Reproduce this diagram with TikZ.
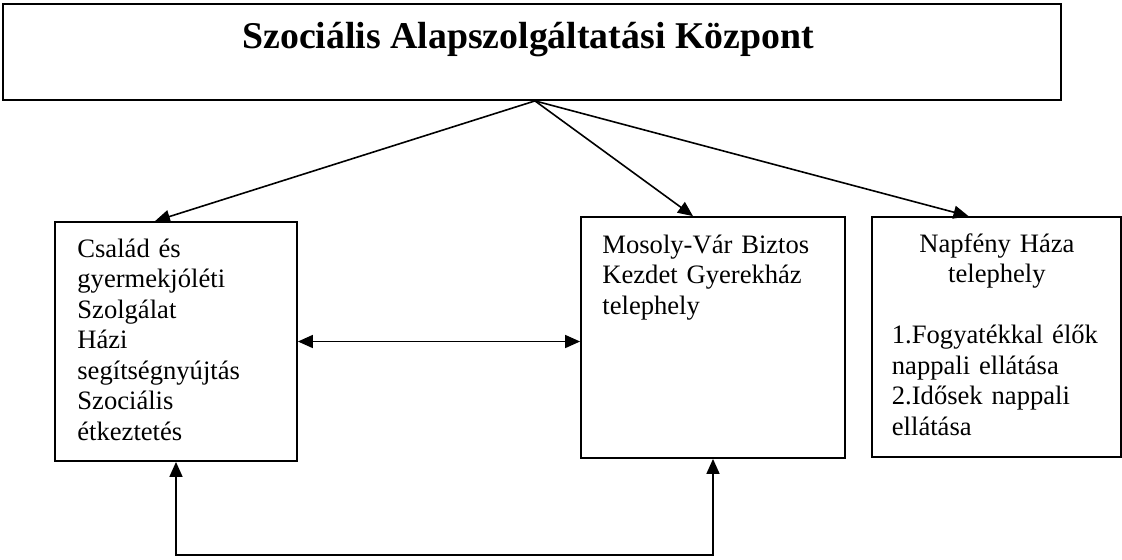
\documentclass[tikz,border=0pt]{standalone}
\usepackage{fontspec}
\setmainfont{Liberation Serif}
\usetikzlibrary{arrows.meta}

\begin{document}
\begin{tikzpicture}[x=0.5pt, y=-0.5pt, >={Triangle[length=7.5pt, width=6.5pt]},
		box/.style={draw, line width=0.9pt, inner sep=0pt},
		boxtext/.style={anchor=base west, inner sep=0pt, font=\fontsize{13.3}{15.25}\selectfont},
		link/.style={line width=0.8pt}]
		\useasboundingbox (0,0) rectangle (1122,559);

		\node[box, minimum width=529pt, minimum height=48pt] (kozpont) at (532,52) {};
		\node[anchor=base, inner sep=0pt, font=\bfseries\fontsize{18.9}{22}\selectfont] (cim) at (528,48) {Szociális Alapszolgáltatási Központ};

		\node[box, minimum width=121pt, minimum height=119.5pt] (csalad) at (176,341.5) {};
		\node[boxtext, text width=110pt, align=left] (csaladtxt) at (77,257) {Család és\\ gyermekjóléti\\ Szolgálat\\ Házi\\ segítségnyújtás\\ Szociális\\ étkeztetés};

		\node[box, minimum width=132pt, minimum height=120.5pt] (mosoly) at (713,337.5) {};
		\node[boxtext, text width=115pt, align=left] (mosolytxt) at (602,253) {Mosoly-Vár Biztos\\ Kezdet Gyerekház\\ telephely};

		\node[box, minimum width=124.5pt, minimum height=120pt] (napfeny) at (996.5,337) {};
		\node[boxtext, text width=105pt] (napfenytxt) at (891.5,252) {\centering Napfény Háza\\ telephely\par
			\vspace{\baselineskip}\raggedright 1.Fogyatékkal élők\\ nappali ellátása\\ 2.Idősek nappali\\ ellátása};

		\draw[link, ->] ([xshift=1.5pt]kozpont.south) -- ([xshift=-10.5pt]csalad.north);
		\draw[link, ->] ([xshift=1.5pt]kozpont.south) -- ([xshift=-10pt]mosoly.north);
		\draw[link, ->] ([xshift=1.5pt]kozpont.south) -- ([xshift=-14pt]napfeny.north);

		\draw[link, <->] (csalad.east) -- (csalad.east -| mosoly.west);

		\coordinate (alja) at (0,555);
		\draw[link, <->] (csalad.south) -- (csalad.south |- alja) -| (mosoly.south);
	\end{tikzpicture}
\end{document}
